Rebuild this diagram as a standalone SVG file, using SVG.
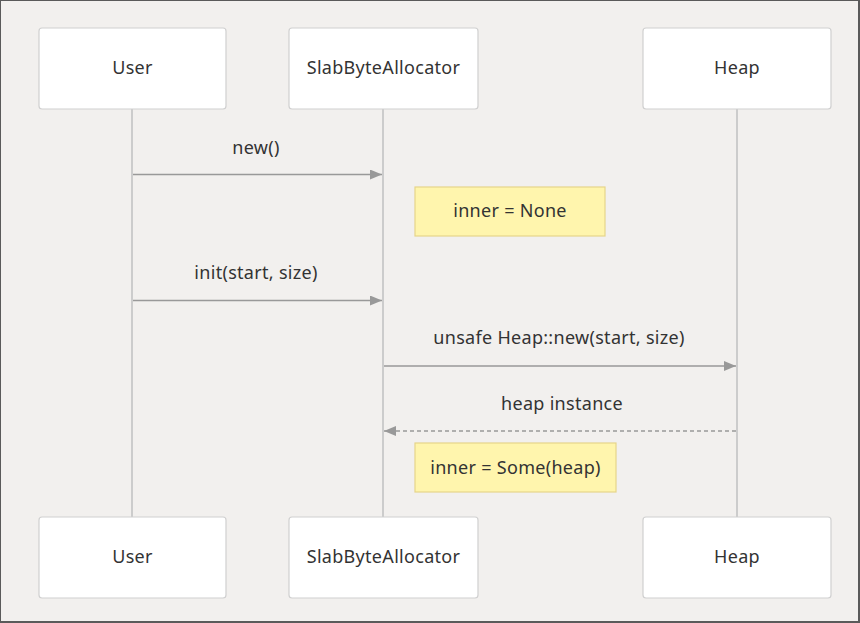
<svg xmlns="http://www.w3.org/2000/svg" width="860" height="623" viewBox="0 0 860 623">
<style>
.bg{fill:#f2f0ee;stroke:#5a5a5a;stroke-width:2}
.actor{fill:#ffffff;stroke:#d0d0d0;stroke-width:1.2}
.life{stroke:#cccccc;stroke-width:2;fill:none}
.msg{stroke:#999999;stroke-width:1.5;fill:none}
.dash{stroke-dasharray:4,3}
.note{fill:#fff5ad;stroke:#e6d58a;stroke-width:1.2}
text{font-family:"Noto Sans","Open Sans",sans-serif;font-size:18px;letter-spacing:0.3px;fill:#333333;text-anchor:middle}
</style>
<defs>
<marker id="ah" markerWidth="12" markerHeight="10" refX="12" refY="5" orient="auto" markerUnits="userSpaceOnUse">
<path d="M0,0 L12,5 L0,10 Z" fill="#999999"/>
</marker>
</defs>
<rect class="bg" x="0" y="0" width="859" height="622"/>
<g id="lifelines">
<line class="life" x1="132" y1="109" x2="132" y2="517"/>
<line class="life" x1="383" y1="109" x2="383" y2="517"/>
<line class="life" x1="737" y1="109" x2="737" y2="517"/>
</g>
<g id="user-top"><rect class="actor" x="39" y="28" width="187" height="81" rx="3"/><text x="132.5" y="74">User</text></g>
<g id="slab-top"><rect class="actor" x="289" y="28" width="189" height="81" rx="3"/><text x="383.5" y="74">SlabByteAllocator</text></g>
<g id="heap-top"><rect class="actor" x="643" y="28" width="188" height="81" rx="3"/><text x="737" y="74">Heap</text></g>
<g id="user-bottom"><rect class="actor" x="39" y="517" width="187" height="81" rx="3"/><text x="132.5" y="563">User</text></g>
<g id="slab-bottom"><rect class="actor" x="289" y="517" width="189" height="81" rx="3"/><text x="383.5" y="563">SlabByteAllocator</text></g>
<g id="heap-bottom"><rect class="actor" x="643" y="517" width="188" height="81" rx="3"/><text x="737" y="563">Heap</text></g>
<g id="connectors">
<line class="msg" x1="133" y1="174.5" x2="382" y2="174.5" marker-end="url(#ah)"/>
<text x="256" y="154">new()</text>
<line class="msg" x1="133" y1="300.5" x2="382" y2="300.5" marker-end="url(#ah)"/>
<text x="256" y="279">init(start, size)</text>
<line class="msg" x1="384" y1="366" x2="736" y2="366" marker-end="url(#ah)"/>
<text x="559" y="344">unsafe Heap::new(start, size)</text>
<line class="msg dash" x1="736" y1="431" x2="384" y2="431" marker-end="url(#ah)"/>
<text x="562" y="410">heap instance</text>
</g>
<g id="note-none"><rect class="note" x="415" y="187" width="190" height="49"/><text x="510" y="217">inner = None</text></g>
<g id="note-some"><rect class="note" x="415" y="443" width="201" height="49"/><text x="515.5" y="474">inner = Some(heap)</text></g>
</svg>
